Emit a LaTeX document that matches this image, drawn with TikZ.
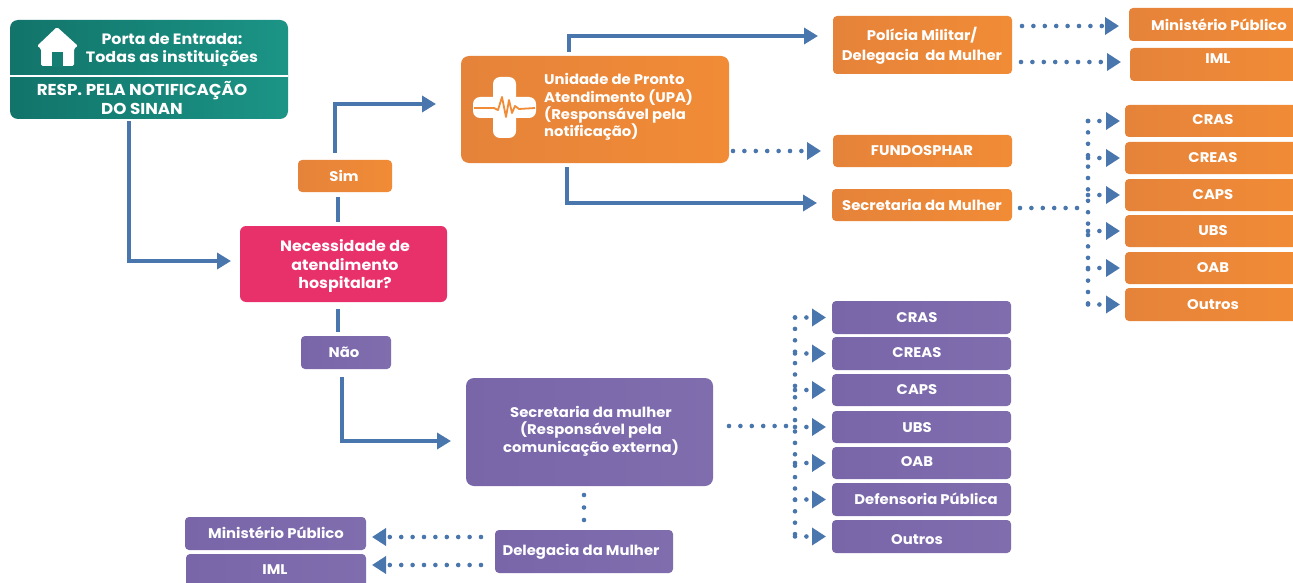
\documentclass[tikz,border=0pt]{standalone}
\usepackage{fontspec}
\setmainfont{Poppins}[FakeStretch=1.06]
\usetikzlibrary{arrows.meta,calc}
\definecolor{flow}{HTML}{4A76AE}
\definecolor{orA}{HTML}{E5833A}
\definecolor{orB}{HTML}{F18B36}
\definecolor{puA}{HTML}{7866A9}
\definecolor{puB}{HTML}{7F6DAE}
\definecolor{teA}{HTML}{12746A}
\definecolor{teB}{HTML}{1B9486}
\definecolor{pink}{HTML}{E8306B}
\tikzset{
  boxbase/.style={rounded corners=4pt,inner sep=0pt,outer sep=0pt,draw=none},
  orangebox/.style={boxbase,left color=orA,right color=orB},
  purplebox/.style={boxbase,left color=puA,right color=puB},
  tealbox/.style={boxbase,left color=teA,right color=teB,rounded corners=8pt},
  pinkbox/.style={boxbase,fill=pink,rounded corners=6pt},
  label/.style={text=white,font=\bfseries\fontsize{14}{18}\selectfont,align=center,inner sep=0pt},
  biglabel/.style={label,font=\bfseries\fontsize{15}{18}\selectfont},
  capslabel/.style={label,font=\bfseries\fontsize{15.8}{18}\selectfont},
  flowline/.style={draw=flow,line width=4pt},
  flowarrow/.style={flowline,-{Triangle[length=14pt,width=16pt]}},
  dots/.style={draw=flow,line width=4.6pt,line cap=round,dash pattern=on 0pt off 11.4pt},
  dotarrow/.style={dots,-{Triangle[length=14pt,width=17pt]}},
}
% name x1 y1 x2 y2 style
\newcommand{\pbox}[6]{\node[#6,minimum width={(#4-#2)*1pt},minimum height={(#5-#3)*1pt}] (#1) at ({(#2+#4)/2},{(#3+#5)/2}) {};}
\begin{document}
\begin{tikzpicture}[x=1pt,y=-1pt]
\useasboundingbox (0,0) rectangle (1293,583);
\clip (0,0) rectangle (1293,583);
\fill[white] (0,0) rectangle (1293,583);

% main boxes
\pbox{porta}{10}{20}{288}{119}{tealbox}
\draw[white,line width=2pt] (10,76) -- (288,76);
\pbox{sim}{298}{160}{392}{192}{orangebox}
\pbox{nec}{240}{226}{447}{302}{pinkbox}
\pbox{nao}{301}{336}{391}{369}{purplebox}
\pbox{upa}{461}{56}{729}{163}{orangebox,rounded corners=8pt}
\pbox{pol}{833}{16}{1012}{74}{orangebox}
\pbox{fund}{833}{135}{1012}{167}{orangebox}
\pbox{secm}{832}{189}{1012}{221}{orangebox}
\pbox{minA}{1129}{8}{1300}{41}{orangebox}
\pbox{imlA}{1130}{48}{1300}{81}{orangebox}
\pbox{crasA}{1125}{105}{1300}{137}{orangebox}
\pbox{creasA}{1125}{142}{1300}{174}{orangebox}
\pbox{capsA}{1125}{179}{1300}{211}{orangebox}
\pbox{ubsA}{1125}{215}{1300}{247}{orangebox}
\pbox{oabA}{1125}{252}{1300}{284}{orangebox}
\pbox{outA}{1125}{288}{1300}{321}{orangebox}
\pbox{secp}{466}{378}{713}{486}{purplebox,rounded corners=8pt}
\pbox{crasB}{832}{301}{1011}{334}{purplebox}
\pbox{creasB}{832}{337}{1011}{370}{purplebox}
\pbox{capsB}{832}{374}{1011}{406}{purplebox}
\pbox{ubsB}{832}{411}{1011}{443}{purplebox}
\pbox{oabB}{832}{447}{1011}{479}{purplebox}
\pbox{defB}{832}{483}{1011}{516}{purplebox}
\pbox{outB}{832}{520}{1011}{553}{purplebox}
\pbox{delp}{495}{530}{673}{573}{purplebox}
\pbox{minB}{185}{517}{366}{550}{purplebox}
\pbox{imlB}{186}{554}{366}{590}{purplebox}

% labels
\node[biglabel] (tPorta) at (172,50) {Porta de Entrada:\\[0.6pt]Todas as instituições};
\node[capslabel] (tResp) at (142,98) {RESP. PELA NOTIFICAÇÃO\\[0.6pt]DO SINAN};
\node[label] (tSim) at (344,176) {Sim};
\node[biglabel] (tNec) at (345,266) {Necessidade de\\[0.6pt]atendimento\\[0.6pt]hospitalar?};
\node[label] (tNao) at (344,352.5) {Não};
\node[label,align=left,anchor=west] (tUpa) at (544,107) {Unidade de Pronto\\[-0.6pt]Atendimento (UPA)\\[-0.6pt](Responsável pela\\[-0.6pt]notificação)};
\node[label] (tPol) at (922,46) {Polícia Militar/\\[2pt]Delegacia\ \ da Mulher};
\node[label] (tFund) at (922,151) {FUNDOSPHAR};
\node[label] (tSecm) at (922,205) {Secretaria da Mulher};
\node[label] (tMinA) at (1219,25) {Ministério Público};
\node[label] (tImlA) at (1218,59) {IML};
\node[label] (tCrasA) at (1213,120) {CRAS};
\node[label] (tCreasA) at (1213,158) {CREAS};
\node[label] (tCapsA) at (1213,195) {CAPS};
\node[label] (tUbsA) at (1213,231) {UBS};
\node[label] (tOabA) at (1213,268) {OAB};
\node[label] (tOutA) at (1213,305) {Outros};
\node[label] (tSecp) at (591,431) {Secretaria da mulher\\[-0.6pt](Responsável pela\\[-0.6pt]comunicação externa)};
\node[label] (tCrasB) at (917,318) {CRAS};
\node[label] (tCreasB) at (917,353) {CREAS};
\node[label] (tCapsB) at (917,390) {CAPS};
\node[label] (tUbsB) at (917,428) {UBS};
\node[label] (tOabB) at (917,462) {OAB};
\node[label] (tDefB) at (926,499) {Defensoria Pública};
\node[label] (tOutB) at (917,540) {Outros};
\node[label] (tDelp) at (581,552) {Delegacia da Mulher};
\node[label] (tMinB) at (276,533) {Ministério Público};
\node[label] (tImlB) at (275,570) {IML};

% house icon
\fill[white,rounded corners=1.5pt] (57,27) -- (78,46) -- (74,48.5) -- (74,66) -- (41,66) -- (41,48.5) -- (37,46) -- cycle;
\fill[teA!70!teB] (52,52) rectangle (63,67);

% cross icon
\fill[white,rounded corners=7pt] (493,77) rectangle (516,138);
\fill[white,rounded corners=7pt] (473,97) rectangle (536,118);
\draw[orB,line width=1.8pt,line join=round] (474,108) -- (494,108) -- (498,110) -- (502,97) -- (506,117) -- (509,100) -- (512,113) -- (515,106) -- (519,109) -- (535,108);

% solid connectors
\draw[flowarrow,shorten <=2pt,shorten >=9pt] ([xshift=-20pt]porta.south) |- ([yshift=3pt]nec.west);
\draw[flowline,shorten <=4pt,shorten >=5pt] ([xshift=-5.5pt]nec.north) -- ([xshift=-7pt]sim.south);
\draw[flowarrow,shorten <=7pt,shorten >=25pt] ([xshift=-10.5pt]sim.north) |- ([yshift=5.5pt]upa.west);
\draw[flowarrow,shorten <=4pt,shorten >=15pt] ([xshift=-26pt]upa.north) |- ([yshift=9pt]pol.west);
\draw[flowarrow,shorten <=4pt,shorten >=15pt] ([xshift=-28pt]upa.south) |- ([yshift=2pt]secm.west);
\draw[flowline,shorten <=7pt,shorten >=4pt] ([xshift=-5.5pt]nec.south) -- ([xshift=-8pt]nao.north);
\draw[flowarrow,shorten <=8pt,shorten >=15pt] ([xshift=-4pt]nao.south) |- ([yshift=-9pt]secp.west);

% dotted, upper part
\draw[dotarrow,shorten <=4pt,shorten >=12pt] (upa.east |- fund.west) -- (fund.west);
\coordinate (polA) at ($(minA.west)+(0,1.5)$);
\coordinate (polB) at ($(imlA.west)+(0,-2.5)$);
\draw[dotarrow,shorten <=10pt,shorten >=10pt] (pol.east |- polA) -- (polA);
\draw[dotarrow,shorten <=9pt,shorten >=9pt] (pol.east |- polB) -- (polB);
\coordinate (orJ) at ($(secm.east)+(76,3)$);
\draw[dots,shorten <=8pt] (secm.east |- orJ) -- (orJ);
\draw[dots] (orJ |- crasA.west) -- (orJ |- outA.west);
\foreach \t in {crasA,creasA,capsA,ubsA,oabA,outA}
  \draw[dotarrow,shorten >=5pt] (orJ |- \t.west) -- (\t.west);

% dotted, lower part
\coordinate (puJ) at ($(secp.east)+(82,-6)$);
\draw[dots,shorten <=16pt] (secp.east |- puJ) -- (puJ);
\draw[dots] (puJ |- crasB.west) -- (puJ |- outB.west);
\foreach \t in {crasB,creasB,capsB,ubsB,oabB,defB,outB}
  \draw[dotarrow,shorten >=6pt] (puJ |- \t.west) -- (\t.west);
\draw[dots,dash pattern=on 0pt off 12.5pt,shorten <=9pt,shorten >=9pt] ([xshift=-5.5pt]secp.south) -- ([xshift=-5.5pt]secp.south |- delp.north);
\coordinate (yA) at (0,537);
\coordinate (yB) at (0,565);
\draw[dotarrow,shorten <=14pt,shorten >=6pt] (delp.west |- yA) -- (minB.east |- yA);
\draw[dotarrow,shorten <=14pt,shorten >=6pt] (delp.west |- yB) -- (imlB.east |- yB);
\end{tikzpicture}
\end{document}
